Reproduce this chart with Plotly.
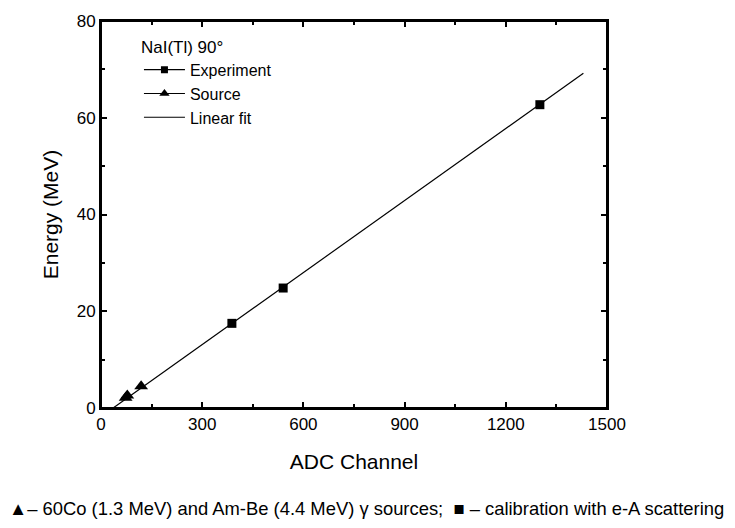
import plotly.graph_objects as go

# Data
exp_x = [388, 540, 1301]
exp_y = [17.5, 24.8, 62.7]
src_x = [73, 78, 119]
src_y = [2.1, 2.6, 4.5]
fit_x = [36, 1430]
fit_y = [0.0, 69.2]

x_ticks = [0, 300, 600, 900, 1200, 1500]
y_ticks = [0, 20, 40, 60, 80]

FONT = "Liberation Sans, Arial, sans-serif"

fig = go.Figure()

# Fit line
fig.add_trace(go.Scatter(x=fit_x, y=fit_y, mode="lines",
                         line=dict(color="black", width=1.2),
                         showlegend=False, hoverinfo="skip"))
# Experiment points
fig.add_trace(go.Scatter(x=exp_x, y=exp_y, mode="markers",
                         marker=dict(symbol="square", size=9, color="black"),
                         showlegend=False))
# Source points
fig.add_trace(go.Scatter(x=src_x, y=src_y, mode="markers",
                         marker=dict(symbol="triangle-up", size=12, color="black"),
                         showlegend=False))

# Legend entries
fig.add_trace(go.Scatter(x=[None], y=[None], mode="lines+markers", name="Experiment",
                         line=dict(color="black", width=1.2),
                         marker=dict(symbol="square", size=7, color="black")))
fig.add_trace(go.Scatter(x=[None], y=[None], mode="lines+markers", name="Source",
                         line=dict(color="black", width=1.2),
                         marker=dict(symbol="triangle-up", size=9, color="black")))
fig.add_trace(go.Scatter(x=[None], y=[None], mode="lines", name="Linear fit",
                         line=dict(color="black", width=1.2)))

axis_common = dict(
    showline=True, linecolor="black", linewidth=2, mirror="allticks",
    ticks="inside", ticklen=6, tickwidth=2, tickcolor="black",
    showgrid=False, zeroline=False,
    tickfont=dict(family=FONT, size=17, color="black"),
)

fig.update_xaxes(range=[0, 1500], tickmode="array", tickvals=x_ticks,
                 ticktext=[str(v) for v in x_ticks],
                 minor=dict(ticks="inside", ticklen=4, tickwidth=1.5, tickcolor="black", dtick=150),
                 title=dict(text="ADC Channel", font=dict(family=FONT, size=21, color="black"),
                            standoff=21),
                 **axis_common)
fig.update_yaxes(range=[0, 80], tickmode="array", tickvals=y_ticks,
                 ticktext=[str(v) for v in y_ticks],
                 minor=dict(ticks="inside", ticklen=4, tickwidth=1.5, tickcolor="black", dtick=10),
                 title=dict(text="Energy (MeV)", font=dict(family=FONT, size=21, color="black"),
                            standoff=12),
                 **axis_common)

fig.update_layout(
    width=735, height=528,
    margin=dict(l=101, r=128, t=15, b=120),
    plot_bgcolor="white", paper_bgcolor="white",
    font=dict(family=FONT, size=17, color="black"),
    legend=dict(x=0.075, y=0.975, xanchor="left", yanchor="top",
                bgcolor="rgba(0,0,0,0)", borderwidth=0, itemwidth=41,
                title=dict(text="NaI(Tl) 90°", font=dict(family=FONT, size=17)),
                font=dict(family=FONT, size=16), tracegroupgap=0),
    shapes=[dict(type="rect", xref="paper", yref="paper", x0=0, y0=0, x1=1, y1=1,
                 line=dict(color="black", width=2), fillcolor="rgba(0,0,0,0)", layer="above")],
    annotations=[dict(
        text="▲– 60Co (1.3 MeV) and Am-Be (4.4 MeV) γ sources;  ■ – calibration with e-A scattering",
        xref="paper", yref="paper", x=0.525, y=-0.26, xanchor="center", yanchor="middle",
        showarrow=False, font=dict(family=FONT, size=18.4, color="black"))],
)

fig.write_html("out.html")
